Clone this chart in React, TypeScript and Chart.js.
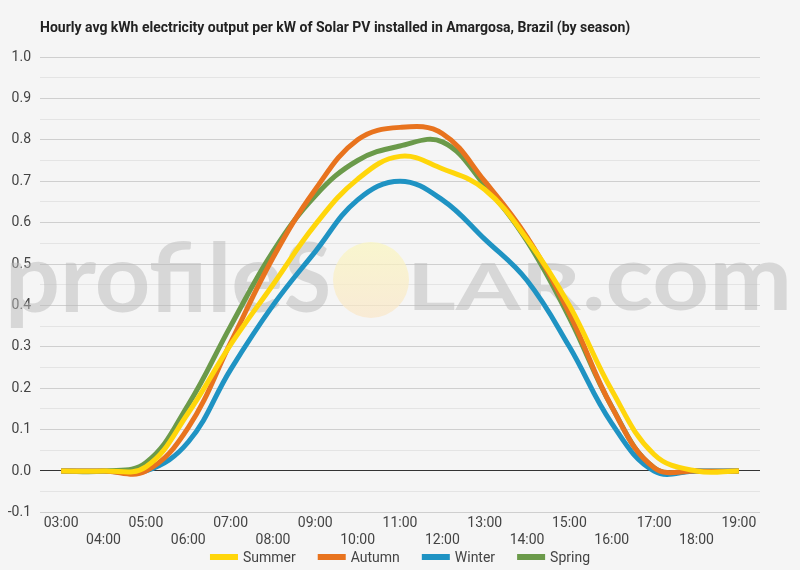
import { useEffect, useRef } from "react";
import { Chart, registerables } from "chart.js";

Chart.register(...registerables);

// hours along the x axis
const hours = [
  "03:00", "04:00", "05:00", "06:00", "07:00", "08:00", "09:00", "10:00", "11:00",
  "12:00", "13:00", "14:00", "15:00", "16:00", "17:00", "18:00", "19:00",
];

// hourly avg kWh per kW
const summer = [0, 0, 0.01, 0.14, 0.305, 0.45, 0.595, 0.705, 0.76, 0.73, 0.68, 0.56, 0.4, 0.195, 0.04, 0, 0];
const autumn = [0, 0, 0, 0.105, 0.31, 0.515, 0.68, 0.8, 0.83, 0.815, 0.7, 0.565, 0.38, 0.155, 0.008, 0, 0];
const winter = [0, 0, 0, 0.07, 0.245, 0.4, 0.53, 0.655, 0.7, 0.655, 0.56, 0.46, 0.3, 0.115, 0, 0, 0];
const spring = [0, 0, 0.02, 0.16, 0.35, 0.53, 0.665, 0.75, 0.785, 0.795, 0.69, 0.555, 0.37, 0.155, 0.008, 0, 0];

const seasonNames = ["Summer", "Autumn", "Winter", "Spring"];
const seasonColors = ["#FFD60A", "#E8731E", "#1F93C3", "#6B9A4A"];

const yMin = -0.1;
const yMax = 1.0;

const TITLE = "Hourly avg kWh electricity output per kW of Solar PV installed in Amargosa, Brazil (by season)";
const FONT = "Roboto, 'Noto Sans', sans-serif";

// squeeze a piece of text into [x0, x1] on the given baseline
function fitText(ctx: CanvasRenderingContext2D, text: string, x0: number, x1: number, y: number, size: number) {
  ctx.font = `bold ${size}px Lato, 'Open Sans', sans-serif`;
  const w = ctx.measureText(text).width;
  ctx.save();
  ctx.translate(x0, y);
  ctx.scale((x1 - x0) / w, 1);
  ctx.fillText(text, 0, 0);
  ctx.restore();
}

const backgroundPlugin = {
  id: "bg",
  beforeDraw(chart: Chart) {
    const { ctx, width, height } = chart;
    ctx.save();
    ctx.fillStyle = "#f5f5f5";
    ctx.fillRect(0, 0, width, height);
    ctx.restore();
  },
};

const watermarkPlugin = {
  id: "watermark",
  beforeDatasetsDraw(chart: Chart) {
    const { ctx } = chart;
    ctx.save();
    ctx.textBaseline = "alphabetic";
    ctx.textAlign = "left";
    ctx.fillStyle = "rgba(185,185,185,0.5)";
    fitText(ctx, "profile", 5, 283, 312, 96);
    fitText(ctx, "S", 284, 331, 312, 96);
    fitText(ctx, "LAR", 407, 581, 310, 65);
    fitText(ctx, ".com", 582, 792, 310, 92);
    // the sun in place of the O
    const g = ctx.createLinearGradient(0, 242, 0, 318);
    g.addColorStop(0, "rgba(250,246,190,0.7)");
    g.addColorStop(1, "rgba(250,230,200,0.7)");
    ctx.fillStyle = g;
    ctx.beginPath();
    ctx.arc(371, 280, 38, 0, Math.PI * 2);
    ctx.fill();
    ctx.restore();
  },
};

const titleLegendPlugin = {
  id: "titleLegend",
  afterDraw(chart: Chart) {
    const { ctx, chartArea } = chart;
    ctx.save();
    ctx.fillStyle = "#222";
    ctx.font = `bold 14px ${FONT}`;
    ctx.textBaseline = "middle";
    ctx.textAlign = "left";
    ctx.fillText(TITLE, chartArea.left, 28);

    // legend row, centred under the plot
    ctx.font = `14px ${FONT}`;
    const sw = 28;
    const gap = 5;
    const spacing = 22;
    const widths = seasonNames.map((n) => sw + gap + ctx.measureText(n).width);
    const total = widths.reduce((a, b) => a + b, 0) + spacing * (widths.length - 1);
    let x = (chart.width - total) / 2;
    const y = 557;
    seasonNames.forEach((name, i) => {
      ctx.fillStyle = seasonColors[i];
      ctx.fillRect(x, y - 3, sw, 6);
      ctx.fillStyle = "#444";
      ctx.fillText(name, x + sw + gap, y + 1);
      x += widths[i] + spacing;
    });
    ctx.restore();
  },
};

export default function App() {
  const canvasRef = useRef<HTMLCanvasElement>(null);

  useEffect(() => {
    document.body.style.margin = "0";
    document.body.style.background = "#f5f5f5";
    const canvas = canvasRef.current;
    if (!canvas) return;
    const ctx = canvas.getContext("2d");
    if (!ctx) return;

    const series = [summer, autumn, winter, spring];

    const chart = new Chart(ctx, {
      type: "line",
      data: {
        labels: hours,
        datasets: series.map((data, i) => ({
          label: seasonNames[i],
          data,
          borderColor: seasonColors[i],
          backgroundColor: seasonColors[i],
          borderWidth: 5,
          pointRadius: 0,
          tension: 0.4,
          fill: false,
        })),
      },
      options: {
        animation: false,
        responsive: false,
        layout: { padding: { top: 57, right: 40, bottom: 18, left: 0 } },
        plugins: {
          legend: { display: false },
          title: { display: false },
          tooltip: { enabled: false },
        },
        scales: {
          x: {
            offset: true,
            grid: { display: false, drawTicks: false },
            border: { display: false },
            ticks: {
              autoSkip: false,
              maxRotation: 0,
              padding: 3,
              color: "#444",
              font: { family: FONT, size: 14 },
              callback: (_v: any, i: number) => (i % 2 === 0 ? [hours[i], ""] : ["", hours[i]]),
            },
          },
          y: {
            min: yMin,
            max: yMax,
            afterFit: (scale: any) => {
              scale.width = 40;
            },
            border: { display: false },
            grid: {
              drawTicks: false,
              lineWidth: 1,
              color: (c: any) => {
                const v = Math.round(c.tick.value * 100);
                if (v === 0) return "#333";
                return v % 10 === 0 ? "#cfcfcf" : "#e4e4e4";
              },
            },
            ticks: {
              stepSize: 0.05,
              padding: 9,
              color: "#444",
              font: { family: FONT, size: 14 },
              callback: (v: any) => {
                const n = Math.round(Number(v) * 100);
                return n % 10 === 0 ? (n / 100).toFixed(1) : "";
              },
            },
          },
        },
      },
      plugins: [backgroundPlugin, watermarkPlugin, titleLegendPlugin],
    });

    return () => chart.destroy();
  }, []);

  return (
    <div style={{ width: 800, height: 570, background: "#f5f5f5" }}>
      <canvas ref={canvasRef} width={800} height={570} style={{ display: "block" }} />
    </div>
  );
}
